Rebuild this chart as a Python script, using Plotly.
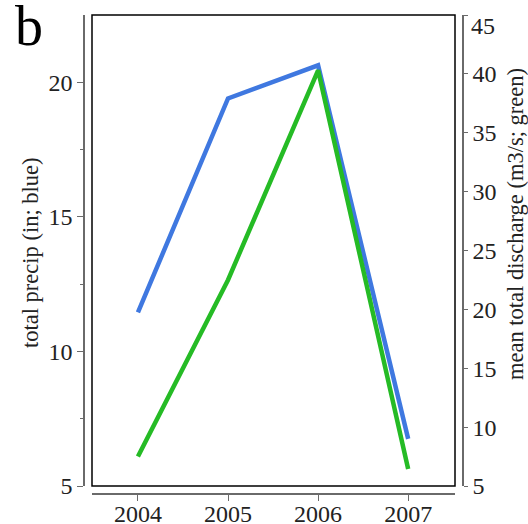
import plotly.graph_objects as go

years = [2004, 2005, 2006, 2007]
precip_in = [11.45, 19.4, 20.63, 6.75]
discharge_m3s = [7.5, 22.5, 40.3, 6.45]

left_ticks = [5, 10, 15, 20]
left_minor = [7.5, 12.5, 17.5]
right_ticks = [5, 10, 15, 20, 25, 30, 35, 40, 45]
right_ticktext = ["5", "10", "15", "20", "25", "30", "35", "40", ""]
right_top_label = "45"

W, H = 528, 524
AX_L, AX_R, AX_T, AX_B = 84, 463, 15, 494   # px of axis lines
ml, mt = AX_L, AX_T
mr, mb = W - AX_R, H - AX_B
pw, ph = W - ml - mr, H - mt - mb

def px_x(x):
    return (x - AX_L) / pw

def px_y(y):
    return (AX_B - y) / ph

font_family = "Liberation Serif, Times New Roman, serif"
axis_col = "#6a6a6a"

fig = go.Figure()
fig.add_trace(go.Scatter(x=years, y=precip_in, mode="lines",
                         line=dict(color="#3f78e0", width=4.5),
                         xaxis="x", yaxis="y", showlegend=False))
fig.add_trace(go.Scatter(x=years, y=discharge_m3s, mode="lines",
                         line=dict(color="#25bb25", width=4.5),
                         xaxis="x", yaxis="y2", showlegend=False))

xdom = [px_x(92), px_x(455)]
ydom = [px_y(486), 1.0]

fig.update_layout(
    width=W, height=H,
    margin=dict(l=ml, r=mr, t=mt, b=mb, autoexpand=False),
    paper_bgcolor="white", plot_bgcolor="white",
    font=dict(family=font_family, size=24, color="#222"),
    xaxis=dict(domain=xdom, range=[2003.49, 2007.52], anchor="free", position=0,
               tickvals=years, ticktext=[str(y) for y in years], automargin=False,
               showline=True, linecolor=axis_col, linewidth=1.5,
               ticks="outside", ticklen=6, tickcolor=axis_col, tickwidth=1,
               ticklabelstandoff=-8,
               showgrid=False, zeroline=False),
    yaxis=dict(domain=ydom, range=[5, 22.5], anchor="free", position=0,
               tickvals=left_ticks, automargin=False,
               showline=True, linecolor=axis_col, linewidth=1.5,
               ticks="outside", ticklen=6, tickcolor=axis_col, tickwidth=1,
               minor=dict(tickvals=left_minor, ticks="outside", ticklen=3,
                          tickcolor=axis_col, tickwidth=1, showgrid=False),
               showgrid=False, zeroline=False),
    yaxis2=dict(domain=ydom, range=[5, 45], anchor="free", position=1,
                overlaying="y", side="right", automargin=False,
                tickvals=right_ticks, ticktext=right_ticktext,
                showline=True, linecolor=axis_col, linewidth=1.5,
                ticks="outside", ticklen=4, tickcolor=axis_col, tickwidth=1,
                showgrid=False, zeroline=False),
    shapes=[dict(type="rect", xref="x domain", yref="y domain", x0=0, x1=1, y0=0, y1=1,
                 line=dict(color="black", width=1.5), fillcolor="rgba(0,0,0,0)")],
    annotations=[
        dict(text="total precip (in; blue)", xref="paper", yref="paper",
             x=px_x(30), y=px_y(253), textangle=-90, showarrow=False,
             xanchor="center", yanchor="middle", font=dict(size=22.5)),
        dict(text="mean total discharge (m3/s; green)", xref="paper", yref="paper",
             x=px_x(516), y=px_y(224), textangle=-90, showarrow=False,
             xanchor="center", yanchor="middle", font=dict(size=22.5)),
        dict(text=right_top_label, xref="paper", yref="paper",
             x=px_x(469), y=px_y(26), showarrow=False,
             xanchor="left", yanchor="middle", font=dict(size=24)),
        dict(text="b", xref="paper", yref="paper", x=px_x(29), y=px_y(26),
             showarrow=False, xanchor="center", yanchor="middle",
             font=dict(size=56, color="black")),
    ],
)

fig.write_html(
    "out.html",
    config={"displayModeBar": False},
    post_script="document.body.style.margin='0';document.body.style.overflow='hidden';",
)
